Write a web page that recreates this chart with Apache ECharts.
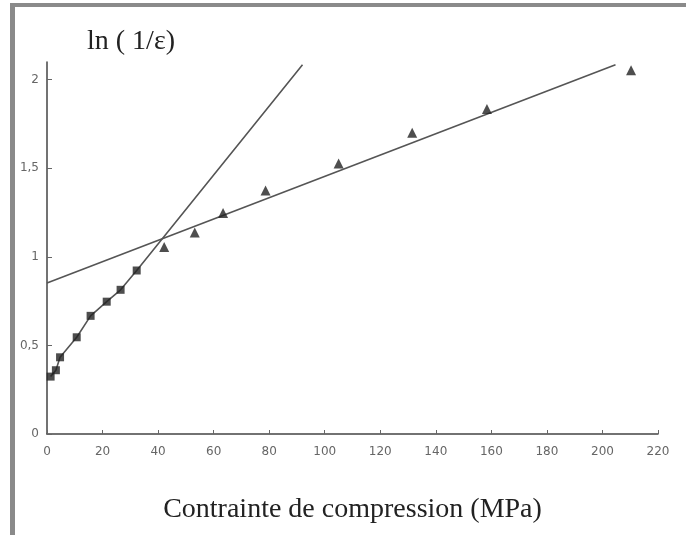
<!DOCTYPE html>
<html>
<head>
<meta charset="utf-8">
<script src="https://cdn.jsdelivr.net/npm/echarts@6/dist/echarts.min.js"></script>
<style>
html,body{margin:0;padding:0;background:#fff;}
#chart{width:686px;height:535px;}
</style>
</head>
<body>
<div id="chart"></div>
<script>
// Data
var squareX = [1.3, 3.2, 4.7, 10.7, 15.7, 21.5, 26.5, 32.3];
var squareY = [0.324, 0.36, 0.433, 0.546, 0.667, 0.747, 0.814, 0.923];
var triangleX = [42.2, 53.2, 63.4, 78.7, 105.0, 131.5, 158.4, 210.3];
var triangleY = [1.055, 1.137, 1.247, 1.375, 1.527, 1.70, 1.835, 2.053];
var steepLineX = [1.3, 3.2, 4.7, 10.7, 15.7, 21.5, 26.5, 32.3, 92];
var steepLineY = [0.324, 0.36, 0.433, 0.546, 0.667, 0.747, 0.814, 0.923, 2.085];
var shallowLineX = [0, 204.7];
var shallowLineY = [0.853, 2.085];
var xTicks = [0, 20, 40, 60, 80, 100, 120, 140, 160, 180, 200, 220];
var yTicks = [0, 0.5, 1, 1.5, 2];
var xTitle = 'Contrainte de compression (MPa)';
var yTitle = 'ln ( 1/ε)';

function pairs(xs, ys) { return xs.map(function (x, i) { return [x, ys[i]]; }); }

var chart = echarts.init(document.getElementById('chart'), null, {renderer: 'canvas'});
chart.setOption({
  animation: false,
  backgroundColor: '#ffffff',
  grid: {left: 47, right: 28, top: 62, bottom: 101, containLabel: false},
  xAxis: {
    type: 'value', min: 0, max: 220, interval: 20,
    splitLine: {show: false},
    axisLine: {lineStyle: {color: '#444', width: 1.5}},
    axisTick: {inside: true, length: 4, lineStyle: {color: '#666'}},
    axisLabel: {color: '#666', fontSize: 12, fontFamily: 'DejaVu Sans', margin: 12,
      customValues: xTicks},
    name: xTitle, nameLocation: 'middle', nameGap: 62,
    nameTextStyle: {color: '#222', fontSize: 28, fontFamily: 'Liberation Serif'}
  },
  yAxis: {
    type: 'value', min: 0, max: 2.1,
    splitLine: {show: false},
    axisLine: {lineStyle: {color: '#444', width: 1.5}},
    axisTick: {inside: true, length: 5, lineStyle: {color: '#666'}, customValues: yTicks},
    axisLabel: {color: '#666', fontSize: 12, fontFamily: 'DejaVu Sans', margin: 8,
      customValues: yTicks,
      formatter: function (v) { return String(v).replace('.', ','); }},
    name: yTitle, nameLocation: 'end', nameGap: 6,
    nameTextStyle: {color: '#222', fontSize: 28, fontFamily: 'Liberation Serif', align: 'left', padding: [0, 0, 0, 40]}
  },
  series: [
    {type: 'line', data: pairs(steepLineX, steepLineY), showSymbol: false, symbol: 'none',
      lineStyle: {color: '#555', width: 1.6}, z: 2},
    {type: 'line', data: pairs(shallowLineX, shallowLineY), showSymbol: false, symbol: 'none',
      lineStyle: {color: '#555', width: 1.6}, z: 2},
    {type: 'scatter', data: pairs(squareX, squareY), symbol: 'rect', symbolSize: 8,
      itemStyle: {color: '#222'}, z: 3},
    {type: 'scatter', data: pairs(triangleX, triangleY), symbol: 'triangle', symbolSize: 10,
      itemStyle: {color: '#222'}, z: 3}
  ],
  graphic: [
    {type: 'rect', left: 10, top: 3, shape: {width: 676, height: 4}, style: {fill: '#8a8a8a'}, silent: true},
    {type: 'rect', left: 10, top: 3, shape: {width: 5, height: 532}, style: {fill: '#8a8a8a'}, silent: true}
  ]
});
</script>
</body>
</html>
